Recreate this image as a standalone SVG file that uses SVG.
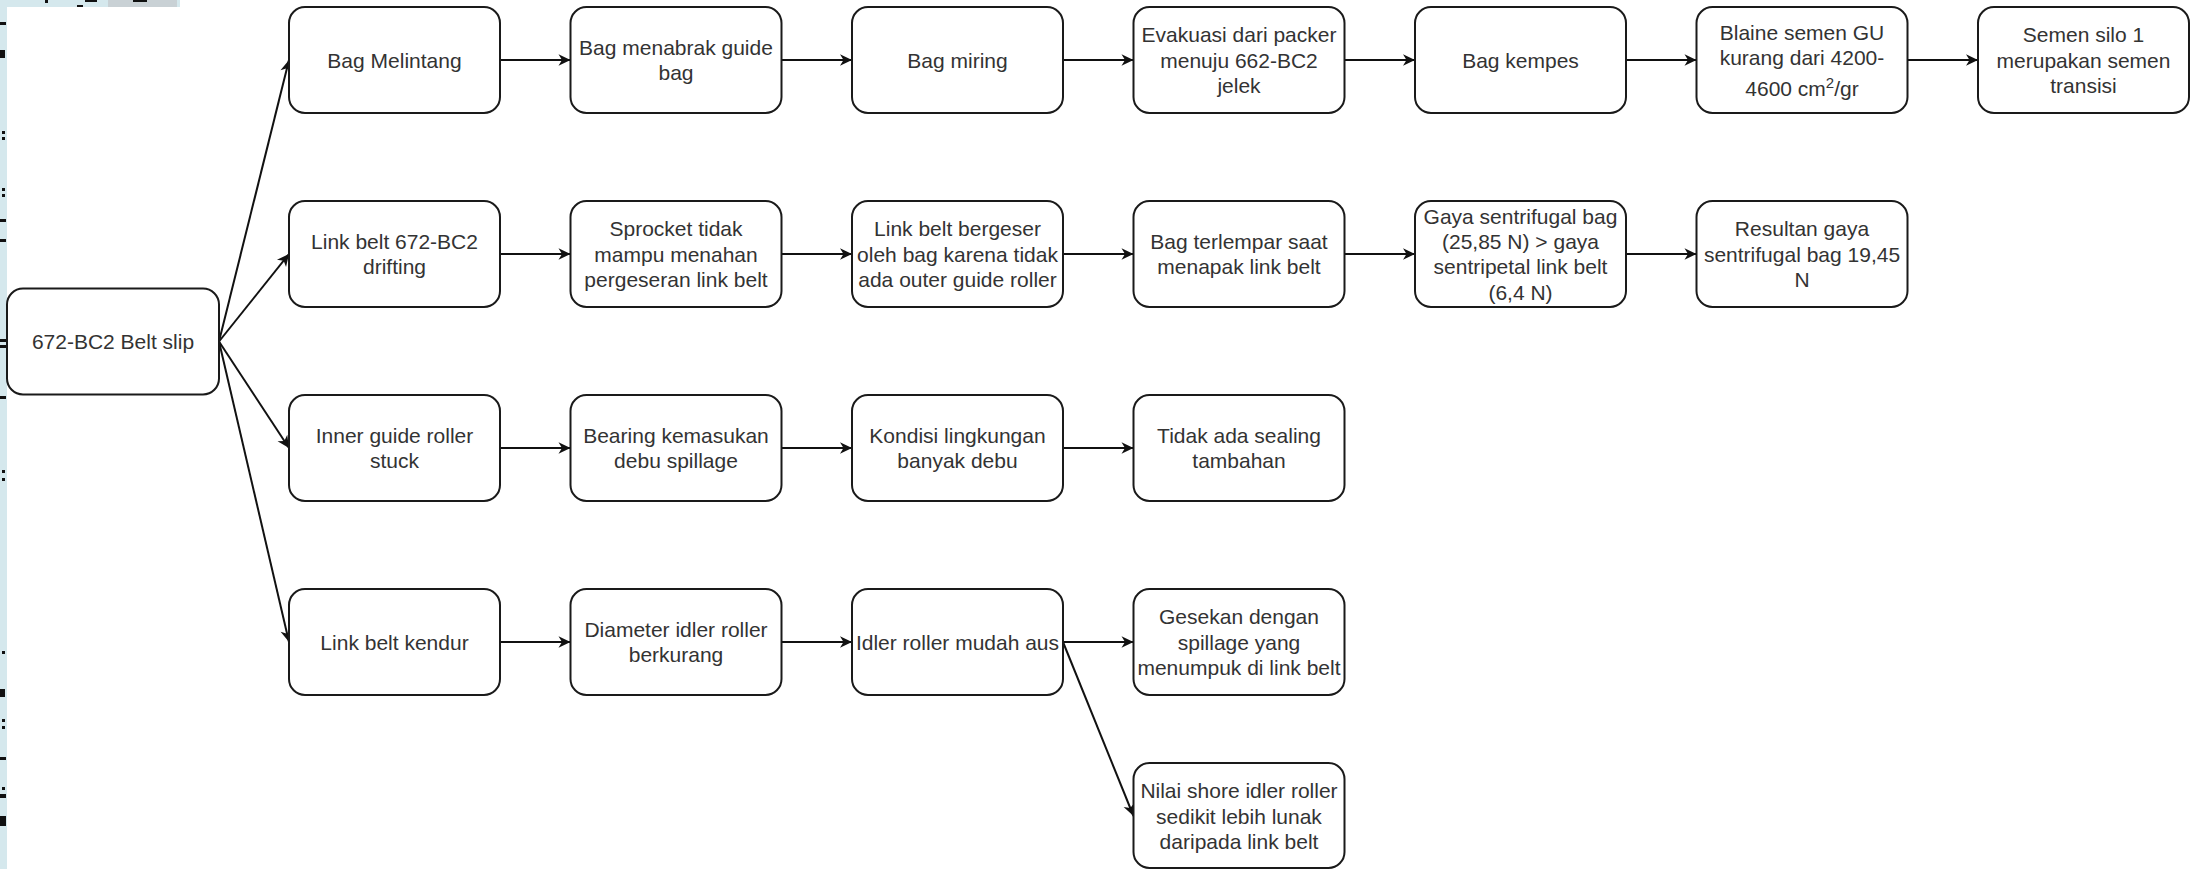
<svg xmlns="http://www.w3.org/2000/svg" width="2190" height="869" viewBox="0 0 2190 869">
<style>
.box{fill:#fff;stroke:#1a1a1a;stroke-width:2}
.t{font-family:"Liberation Sans",Arial,Helvetica,sans-serif;font-size:21px;fill:#333;text-anchor:middle}
.c{fill:none;stroke:#111;stroke-width:2}
.frag{fill:#111}
</style>
<defs>
<marker id="arr" markerUnits="userSpaceOnUse" markerWidth="16" markerHeight="16" refX="13" refY="7" orient="auto">
<path d="M1,1.2 L13,7 L1,12.8 L4.5,7 Z" fill="#111"/>
</marker>
</defs>
<rect width="2190" height="869" fill="#fff"/>
<g id="edge-strip">
<rect x="0" y="0" width="7" height="869" fill="#d5e8ed"/>
<rect x="0" y="0" width="180" height="7" fill="#d5e8ed"/>
<rect x="108" y="0" width="69" height="7" fill="#c9d1d5"/>
<rect class="frag" x="45" y="0" width="3" height="3"/>
<rect class="frag" x="85" y="0" width="12" height="2"/>
<rect class="frag" x="77" y="5" width="6" height="2"/>
<rect class="frag" x="133" y="0" width="14" height="2"/>
<rect class="frag" x="0" y="22" width="6" height="3"/>
<rect class="frag" x="0" y="50" width="5" height="8"/>
<rect class="frag" x="2" y="131" width="3" height="3"/>
<rect class="frag" x="2" y="137" width="3" height="3"/>
<rect class="frag" x="2" y="188" width="3" height="3"/>
<rect class="frag" x="2" y="194" width="3" height="3"/>
<rect class="frag" x="0" y="219" width="6" height="3"/>
<rect class="frag" x="0" y="239" width="6" height="3"/>
<rect class="frag" x="0" y="339" width="6" height="3"/>
<rect class="frag" x="0" y="345" width="6" height="3"/>
<rect class="frag" x="0" y="396" width="6" height="3"/>
<rect class="frag" x="2" y="470" width="3" height="3"/>
<rect class="frag" x="2" y="478" width="3" height="3"/>
<rect class="frag" x="2" y="651" width="3" height="3"/>
<rect class="frag" x="0" y="689" width="5" height="8"/>
<rect class="frag" x="2" y="719" width="3" height="3"/>
<rect class="frag" x="2" y="726" width="3" height="3"/>
<rect class="frag" x="0" y="757" width="6" height="3"/>
<rect class="frag" x="2" y="787" width="3" height="3"/>
<rect class="frag" x="0" y="794" width="6" height="4"/>
<rect class="frag" x="0" y="816" width="6" height="10"/>
</g>
<g id="connectors">
<path class="c" d="M219,341.5 L289,60" marker-end="url(#arr)"/>
<path class="c" d="M219,341.5 L289,254" marker-end="url(#arr)"/>
<path class="c" d="M219,341.5 L289,448" marker-end="url(#arr)"/>
<path class="c" d="M219,341.5 L289,642" marker-end="url(#arr)"/>
<path class="c" d="M500,60 L570.5,60" marker-end="url(#arr)"/>
<path class="c" d="M781.5,60 L852,60" marker-end="url(#arr)"/>
<path class="c" d="M1063,60 L1133.5,60" marker-end="url(#arr)"/>
<path class="c" d="M1344.5,60 L1415,60" marker-end="url(#arr)"/>
<path class="c" d="M1626,60 L1696.5,60" marker-end="url(#arr)"/>
<path class="c" d="M1907.5,60 L1978,60" marker-end="url(#arr)"/>
<path class="c" d="M500,254 L570.5,254" marker-end="url(#arr)"/>
<path class="c" d="M781.5,254 L852,254" marker-end="url(#arr)"/>
<path class="c" d="M1063,254 L1133.5,254" marker-end="url(#arr)"/>
<path class="c" d="M1344.5,254 L1415,254" marker-end="url(#arr)"/>
<path class="c" d="M1626,254 L1696.5,254" marker-end="url(#arr)"/>
<path class="c" d="M500,448 L570.5,448" marker-end="url(#arr)"/>
<path class="c" d="M781.5,448 L852,448" marker-end="url(#arr)"/>
<path class="c" d="M1063,448 L1133.5,448" marker-end="url(#arr)"/>
<path class="c" d="M500,642 L570.5,642" marker-end="url(#arr)"/>
<path class="c" d="M781.5,642 L852,642" marker-end="url(#arr)"/>
<path class="c" d="M1063,642 L1133.5,642" marker-end="url(#arr)"/>
<path class="c" d="M1063,642 L1133.5,816" marker-end="url(#arr)"/>
</g>
<g id="n-root"><rect class="box" x="7" y="288.5" width="212" height="106" rx="16"/>
<text class="t" x="113" y="349">672-BC2 Belt slip</text></g>

<g id="n-r1c1"><rect class="box" x="289" y="7" width="211" height="106" rx="16"/>
<text class="t" x="394.5" y="67.5">Bag Melintang</text></g>
<g id="n-r1c2"><rect class="box" x="570.5" y="7" width="211" height="106" rx="16"/>
<text class="t"><tspan x="676" y="55">Bag menabrak guide</tspan><tspan x="676" y="80.3">bag</tspan></text></g>
<g id="n-r1c3"><rect class="box" x="852" y="7" width="211" height="106" rx="16"/>
<text class="t" x="957.5" y="67.5">Bag miring</text></g>
<g id="n-r1c4"><rect class="box" x="1133.5" y="7" width="211" height="106" rx="16"/>
<text class="t"><tspan x="1239" y="42.2">Evakuasi dari packer</tspan><tspan x="1239" y="67.5">menuju 662-BC2</tspan><tspan x="1239" y="92.8">jelek</tspan></text></g>
<g id="n-r1c5"><rect class="box" x="1415" y="7" width="211" height="106" rx="16"/>
<text class="t" x="1520.5" y="67.5">Bag kempes</text></g>
<g id="n-r1c6"><rect class="box" x="1696.5" y="7" width="211" height="106" rx="16"/>
<text class="t"><tspan x="1802" y="39.5">Blaine semen GU</tspan><tspan x="1802" y="64.5">kurang dari 4200-</tspan><tspan x="1802" y="95.5">4600 cm<tspan dy="-8" font-size="15">2</tspan><tspan dy="8">/gr</tspan></tspan></text></g>
<g id="n-r1c7"><rect class="box" x="1978" y="7" width="211" height="106" rx="16"/>
<text class="t"><tspan x="2083.5" y="42.2">Semen silo 1</tspan><tspan x="2083.5" y="67.5">merupakan semen</tspan><tspan x="2083.5" y="92.8">transisi</tspan></text></g>

<g id="n-r2c1"><rect class="box" x="289" y="201" width="211" height="106" rx="16"/>
<text class="t"><tspan x="394.5" y="248.9">Link belt 672-BC2</tspan><tspan x="394.5" y="274.2">drifting</tspan></text></g>
<g id="n-r2c2"><rect class="box" x="570.5" y="201" width="211" height="106" rx="16"/>
<text class="t"><tspan x="676" y="236.2">Sprocket tidak</tspan><tspan x="676" y="261.5">mampu menahan</tspan><tspan x="676" y="286.8">pergeseran link belt</tspan></text></g>
<g id="n-r2c3"><rect class="box" x="852" y="201" width="211" height="106" rx="16"/>
<text class="t"><tspan x="957.5" y="236.2">Link belt bergeser</tspan><tspan x="957.5" y="261.5">oleh bag karena tidak</tspan><tspan x="957.5" y="286.8">ada outer guide roller</tspan></text></g>
<g id="n-r2c4"><rect class="box" x="1133.5" y="201" width="211" height="106" rx="16"/>
<text class="t"><tspan x="1239" y="248.9">Bag terlempar saat</tspan><tspan x="1239" y="274.2">menapak link belt</tspan></text></g>
<g id="n-r2c5"><rect class="box" x="1415" y="201" width="211" height="106" rx="16"/>
<text class="t"><tspan x="1520.5" y="223.5">Gaya sentrifugal bag</tspan><tspan x="1520.5" y="248.9">(25,85 N) &gt; gaya</tspan><tspan x="1520.5" y="274.2">sentripetal link belt</tspan><tspan x="1520.5" y="299.5">(6,4 N)</tspan></text></g>
<g id="n-r2c6"><rect class="box" x="1696.5" y="201" width="211" height="106" rx="16"/>
<text class="t"><tspan x="1802" y="236.2">Resultan gaya</tspan><tspan x="1802" y="261.5">sentrifugal bag 19,45</tspan><tspan x="1802" y="286.8">N</tspan></text></g>

<g id="n-r3c1"><rect class="box" x="289" y="395" width="211" height="106" rx="16"/>
<text class="t"><tspan x="394.5" y="442.9">Inner guide roller</tspan><tspan x="394.5" y="468.2">stuck</tspan></text></g>
<g id="n-r3c2"><rect class="box" x="570.5" y="395" width="211" height="106" rx="16"/>
<text class="t"><tspan x="676" y="442.9">Bearing kemasukan</tspan><tspan x="676" y="468.2">debu spillage</tspan></text></g>
<g id="n-r3c3"><rect class="box" x="852" y="395" width="211" height="106" rx="16"/>
<text class="t"><tspan x="957.5" y="442.9">Kondisi lingkungan</tspan><tspan x="957.5" y="468.2">banyak debu</tspan></text></g>
<g id="n-r3c4"><rect class="box" x="1133.5" y="395" width="211" height="106" rx="16"/>
<text class="t"><tspan x="1239" y="442.9">Tidak ada sealing</tspan><tspan x="1239" y="468.2">tambahan</tspan></text></g>

<g id="n-r4c1"><rect class="box" x="289" y="589" width="211" height="106" rx="16"/>
<text class="t" x="394.5" y="649.5">Link belt kendur</text></g>
<g id="n-r4c2"><rect class="box" x="570.5" y="589" width="211" height="106" rx="16"/>
<text class="t"><tspan x="676" y="636.9">Diameter idler roller</tspan><tspan x="676" y="662.2">berkurang</tspan></text></g>
<g id="n-r4c3"><rect class="box" x="852" y="589" width="211" height="106" rx="16"/>
<text class="t" x="957.5" y="649.5">Idler roller mudah aus</text></g>
<g id="n-r4c4"><rect class="box" x="1133.5" y="589" width="211" height="106" rx="16"/>
<text class="t"><tspan x="1239" y="624.2">Gesekan dengan</tspan><tspan x="1239" y="649.5">spillage yang</tspan><tspan x="1239" y="674.8">menumpuk di link belt</tspan></text></g>

<g id="n-r5c4"><rect class="box" x="1133.5" y="763" width="211" height="105" rx="16"/>
<text class="t"><tspan x="1239" y="798.2">Nilai shore idler roller</tspan><tspan x="1239" y="823.5">sedikit lebih lunak</tspan><tspan x="1239" y="848.8">daripada link belt</tspan></text></g>
</svg>
